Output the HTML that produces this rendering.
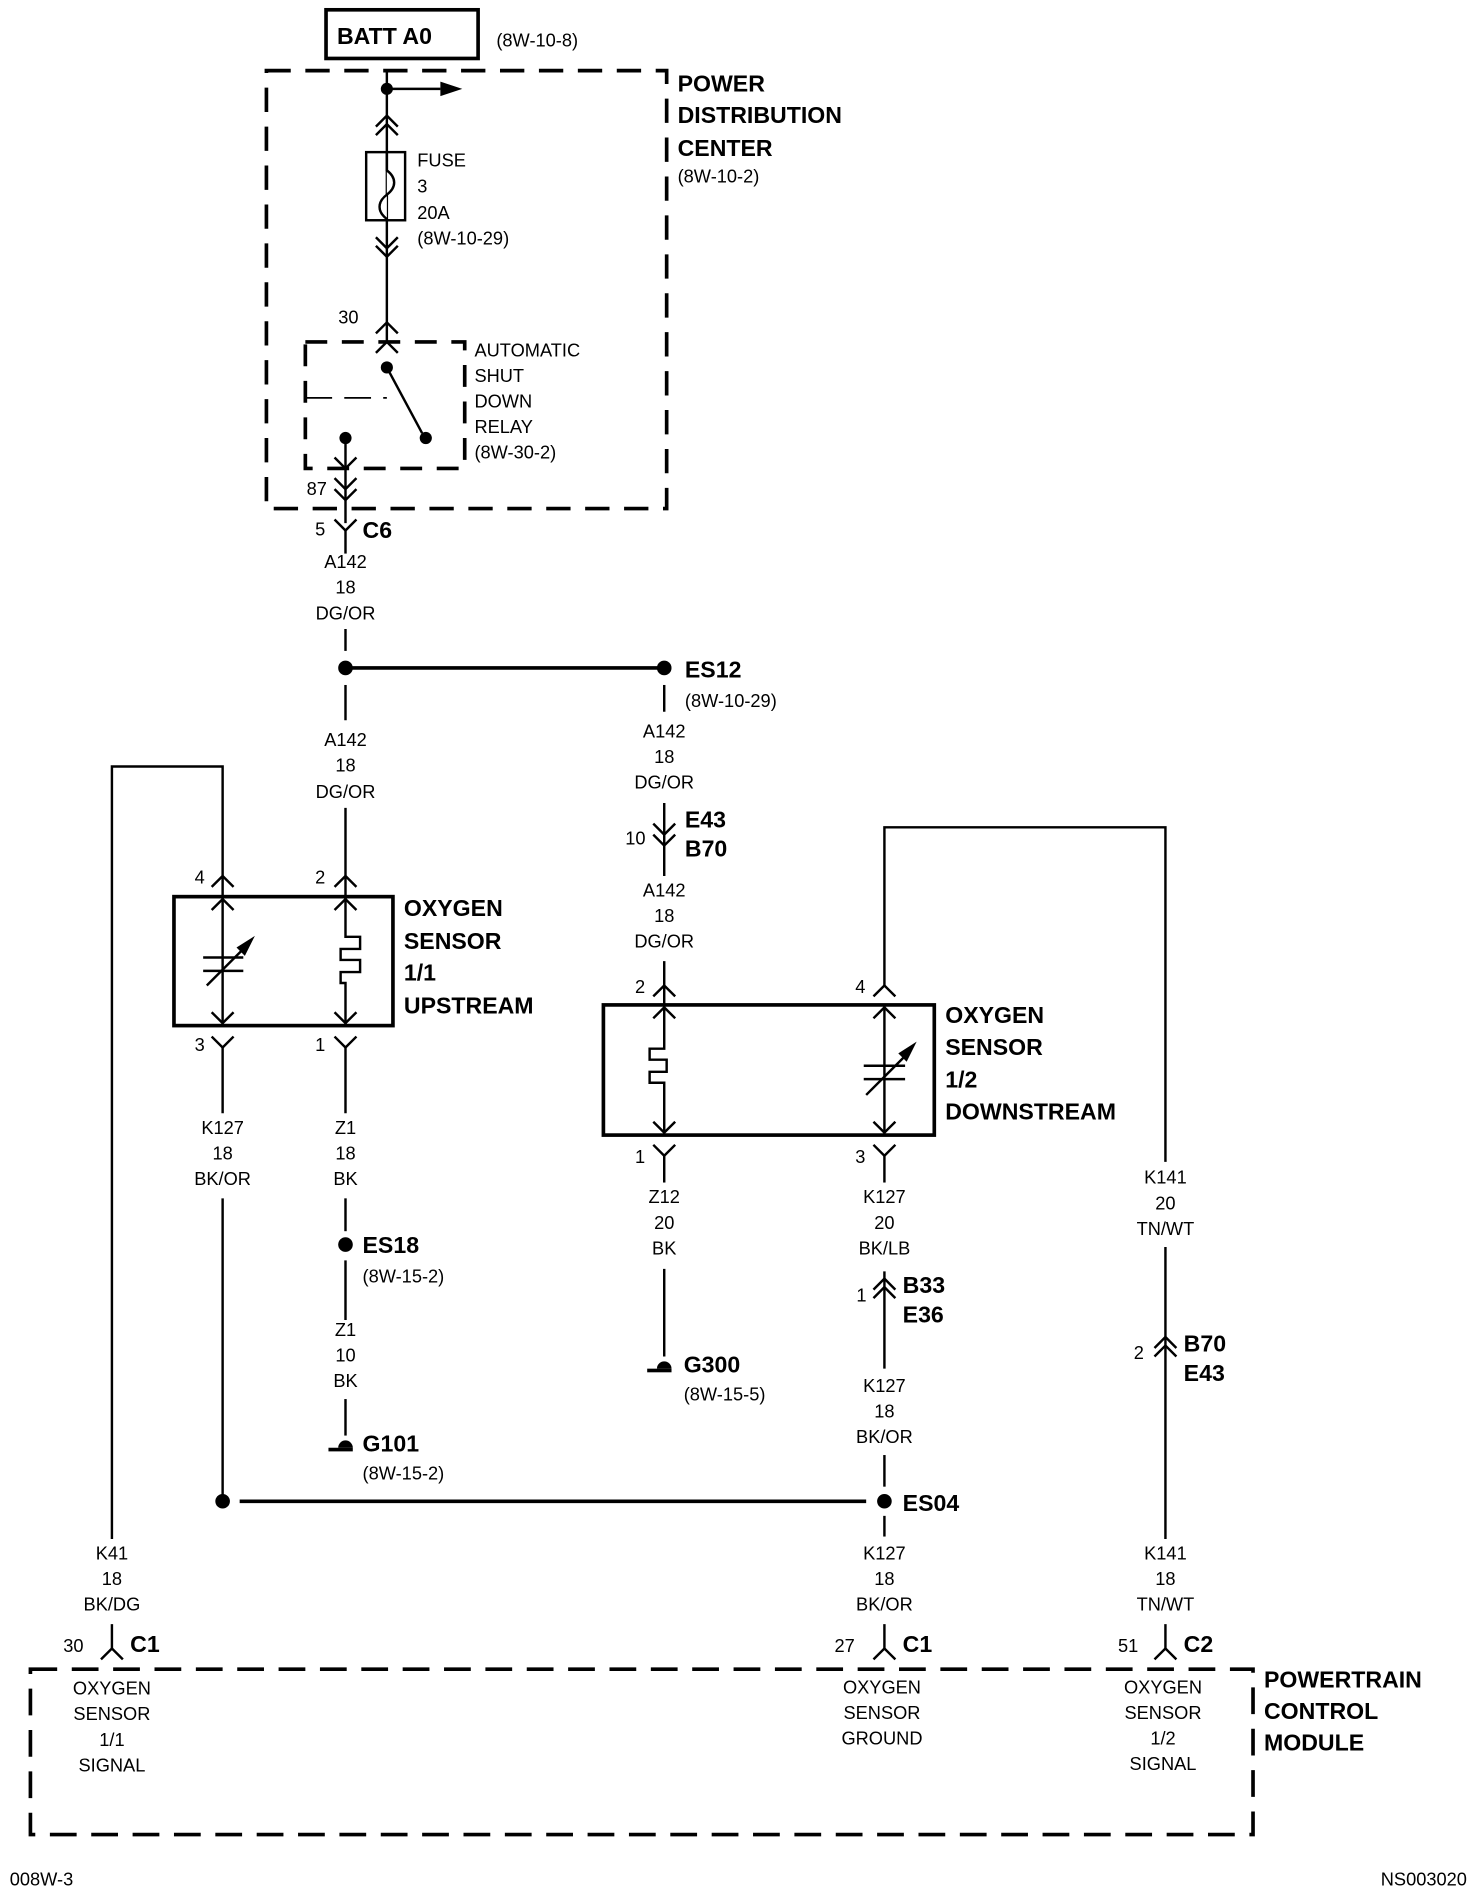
<!DOCTYPE html>
<html><head><meta charset="utf-8"><style>
html,body{margin:0;padding:0;background:#fff;}
svg{display:block}
text{font-family:"Liberation Sans",Arial,sans-serif;fill:#000}
.s{font-size:15px}
.b{font-size:19px;font-weight:bold}
.m{text-anchor:middle}
</style></head><body>
<svg width="1472" height="1904" viewBox="0 0 1210 1565" xmlns="http://www.w3.org/2000/svg">
<g fill="none" stroke="#000" stroke-width="2">
<rect x="268" y="8" width="125" height="40" stroke-width="3"/>
<rect x="219" y="58" width="329" height="360" stroke-width="3" stroke-dasharray="20,12"/>
<line x1="318" y1="58" x2="318" y2="280"/>
<line x1="318" y1="73" x2="362" y2="73"/>
<polyline points="309,104 318,95 327,104"/><polyline points="309,111 318,102 327,111"/>
<rect x="301" y="125" width="32" height="56"/>
<path d="M318,125 v15 c8,6 8,14 0,20 c-8,6 -8,14 0,20" fill="#fff"/>
<polyline points="309,195 318,204 327,195"/><polyline points="309,202 318,211 327,202"/>
<polyline points="309,274 318,265 327,274"/>
<polyline points="309,290 318,281 327,290"/>
<rect x="251" y="281" width="131" height="104" stroke-dasharray="18,12" stroke-width="3"/>
<line x1="251" y1="327" x2="318" y2="327" stroke-dasharray="22,10" stroke-width="1.5"/>
<line x1="318" y1="302" x2="347" y2="356"/>
<line x1="284" y1="360" x2="284" y2="430"/>
<polyline points="275,376 284,385 293,376"/>
<polyline points="275,393 284,402 293,393"/><polyline points="275,402 284,411 293,402"/>
<polyline points="275,427 284,436 293,427"/>
<line x1="284" y1="436" x2="284" y2="455"/>
<line x1="284" y1="517" x2="284" y2="535"/>
<line x1="284" y1="549" x2="546" y2="549" stroke-width="3"/>
<line x1="284" y1="563" x2="284" y2="592"/>
<line x1="284" y1="664" x2="284" y2="737"/>
<polyline points="275,729 284,720 293,729"/>
<polyline points="92,1265 92,630 183,630 183,737"/>
<polyline points="174,729 183,720 192,729"/>
<rect x="143" y="737" width="180" height="106" stroke-width="3"/>
<line x1="183" y1="737" x2="183" y2="843"/>
<polyline points="174,748 183,739 192,748"/><polyline points="174,832 183,841 192,832"/>
<line x1="167" y1="787" x2="200" y2="787"/><line x1="167" y1="798" x2="200" y2="798"/>
<line x1="170" y1="810" x2="200" y2="780"/>
<polygon points="207,772 196,779 201,784" fill="#000"/>
<path d="M284,737 v33 h12 v10 h-16 v9 h16 v10 h-16 v9 h4 v35"/>
<polyline points="275,748 284,739 293,748"/><polyline points="275,832 284,841 293,832"/>
<polyline points="174,852 183,861 192,852"/><polyline points="275,852 284,861 293,852"/>
<line x1="183" y1="861" x2="183" y2="915"/><line x1="284" y1="861" x2="284" y2="915"/>
<line x1="183" y1="985" x2="183" y2="1234"/>
<line x1="284" y1="985" x2="284" y2="1012"/>
<line x1="284" y1="1036" x2="284" y2="1085"/>
<line x1="284" y1="1150" x2="284" y2="1180"/>
<line x1="197" y1="1234" x2="712" y2="1234" stroke-width="3"/>
<line x1="546" y1="563" x2="546" y2="585"/>
<line x1="546" y1="660" x2="546" y2="720"/>
<polyline points="537,686 546,695 555,686"/><polyline points="537,677 546,686 555,677"/>
<line x1="546" y1="790" x2="546" y2="826"/>
<polyline points="537,819 546,810 555,819"/>
<rect x="496" y="826" width="272" height="107" stroke-width="3"/>
<path d="M546,826 v36 h-12 v9 h14 v10 h-14 v9 h12 v43"/>
<polyline points="537,837 546,828 555,837"/><polyline points="537,922 546,931 555,922"/>
<line x1="727" y1="826" x2="727" y2="933"/>
<polyline points="718,837 727,828 736,837"/><polyline points="718,922 727,931 736,922"/>
<line x1="710" y1="876" x2="744" y2="876"/><line x1="710" y1="887" x2="744" y2="887"/>
<line x1="712" y1="900" x2="744" y2="868"/>
<polygon points="751,859 740,866 745,871" fill="#000"/>
<polyline points="537,941 546,950 555,941"/><polyline points="718,941 727,950 736,941"/>
<line x1="546" y1="950" x2="546" y2="972"/>
<line x1="546" y1="1043" x2="546" y2="1115"/>
<line x1="727" y1="950" x2="727" y2="972"/>
<line x1="727" y1="1045" x2="727" y2="1125"/>
<polyline points="718,1060 727,1051 736,1060"/><polyline points="718,1067 727,1058 736,1067"/>
<line x1="727" y1="1196" x2="727" y2="1222"/>
<line x1="727" y1="1246" x2="727" y2="1263"/>
<line x1="727" y1="1335" x2="727" y2="1355"/>
<polyline points="718,1364 727,1355 736,1364"/>
<polyline points="727,810 727,680 958,680 958,955"/>
<polyline points="718,819 727,810 736,819"/>
<line x1="958" y1="1025" x2="958" y2="1265"/>
<polyline points="949,1108 958,1099 967,1108"/><polyline points="949,1115 958,1106 967,1115"/>
<line x1="958" y1="1335" x2="958" y2="1355"/>
<polyline points="949,1364 958,1355 967,1364"/>
<line x1="92" y1="1335" x2="92" y2="1355"/>
<polyline points="83,1364 92,1355 101,1364"/>
<rect x="25" y="1372" width="1005" height="136" stroke-width="3" stroke-dasharray="22,12"/>
</g>
<g fill="#000">
<polygon points="362,67 380,73 362,79"/>
<circle cx="318" cy="73" r="5"/><circle cx="318" cy="302" r="5"/><circle cx="350" cy="360" r="5"/><circle cx="284" cy="360" r="5"/>
<circle cx="284" cy="549" r="6"/><circle cx="546" cy="549" r="6"/>
<circle cx="284" cy="1023" r="6"/><circle cx="183" cy="1234" r="6"/><circle cx="727" cy="1234" r="6"/>
<path d="M278,1190 a6,6 0 0 1 12,0 z"/><rect x="270" y="1190" width="20" height="3"/>
<path d="M540,1125 a6,6 0 0 1 12,0 z"/><rect x="532" y="1125" width="20" height="3"/>
</g>
<text x="277" y="36" class="b">BATT A0</text>
<text x="408" y="38" class="s">(8W-10-8)</text>
<text x="557" y="75" class="b">POWER</text>
<text x="557" y="101" class="b">DISTRIBUTION</text>
<text x="557" y="128" class="b">CENTER</text>
<text x="557" y="150" class="s">(8W-10-2)</text>
<text x="343" y="137" class="s">FUSE</text>
<text x="343" y="158" class="s">3</text>
<text x="343" y="180" class="s">20A</text>
<text x="343" y="201" class="s">(8W-10-29)</text>
<text x="278" y="266" class="s">30</text>
<text x="390" y="293" class="s">AUTOMATIC</text>
<text x="390" y="314" class="s">SHUT</text>
<text x="390" y="335" class="s">DOWN</text>
<text x="390" y="356" class="s">RELAY</text>
<text x="390" y="377" class="s">(8W-30-2)</text>
<text x="252" y="407" class="s">87</text>
<text x="259" y="440" class="s">5</text>
<text x="298" y="442" class="b">C6</text>
<text x="284" y="467" class="s m">A142</text><text x="284" y="488" class="s m">18</text><text x="284" y="509" class="s m">DG/OR</text>
<text x="284" y="613" class="s m">A142</text><text x="284" y="634" class="s m">18</text><text x="284" y="656" class="s m">DG/OR</text>
<text x="546" y="606" class="s m">A142</text><text x="546" y="627" class="s m">18</text><text x="546" y="648" class="s m">DG/OR</text>
<text x="546" y="737" class="s m">A142</text><text x="546" y="758" class="s m">18</text><text x="546" y="779" class="s m">DG/OR</text>
<text x="183" y="932" class="s m">K127</text><text x="183" y="953" class="s m">18</text><text x="183" y="974" class="s m">BK/OR</text>
<text x="284" y="932" class="s m">Z1</text><text x="284" y="953" class="s m">18</text><text x="284" y="974" class="s m">BK</text>
<text x="284" y="1098" class="s m">Z1</text><text x="284" y="1119" class="s m">10</text><text x="284" y="1140" class="s m">BK</text>
<text x="546" y="989" class="s m">Z12</text><text x="546" y="1010" class="s m">20</text><text x="546" y="1031" class="s m">BK</text>
<text x="727" y="989" class="s m">K127</text><text x="727" y="1010" class="s m">20</text><text x="727" y="1031" class="s m">BK/LB</text>
<text x="727" y="1144" class="s m">K127</text><text x="727" y="1165" class="s m">18</text><text x="727" y="1186" class="s m">BK/OR</text>
<text x="727" y="1282" class="s m">K127</text><text x="727" y="1303" class="s m">18</text><text x="727" y="1324" class="s m">BK/OR</text>
<text x="958" y="973" class="s m">K141</text><text x="958" y="994" class="s m">20</text><text x="958" y="1015" class="s m">TN/WT</text>
<text x="958" y="1282" class="s m">K141</text><text x="958" y="1303" class="s m">18</text><text x="958" y="1324" class="s m">TN/WT</text>
<text x="92" y="1282" class="s m">K41</text><text x="92" y="1303" class="s m">18</text><text x="92" y="1324" class="s m">BK/DG</text>
<text x="92" y="1393" class="s m">OXYGEN</text><text x="92" y="1414" class="s m">SENSOR</text><text x="92" y="1435" class="s m">1/1</text><text x="92" y="1456" class="s m">SIGNAL</text>
<text x="725" y="1392" class="s m">OXYGEN</text><text x="725" y="1413" class="s m">SENSOR</text><text x="725" y="1434" class="s m">GROUND</text>
<text x="956" y="1392" class="s m">OXYGEN</text><text x="956" y="1413" class="s m">SENSOR</text><text x="956" y="1434" class="s m">1/2</text><text x="956" y="1455" class="s m">SIGNAL</text>
<text x="563" y="557" class="b">ES12</text>
<text x="563" y="581" class="s">(8W-10-29)</text>
<text x="514" y="694" class="s">10</text>
<text x="563" y="680" class="b">E43</text><text x="563" y="704" class="b">B70</text>
<text x="160" y="726" class="s">4</text><text x="259" y="726" class="s">2</text>
<text x="160" y="864" class="s">3</text><text x="259" y="864" class="s">1</text>
<text x="332" y="753" class="b">OXYGEN</text><text x="332" y="780" class="b">SENSOR</text><text x="332" y="806" class="b">1/1</text><text x="332" y="833" class="b">UPSTREAM</text>
<text x="522" y="816" class="s">2</text><text x="703" y="816" class="s">4</text>
<text x="522" y="956" class="s">1</text><text x="703" y="956" class="s">3</text>
<text x="777" y="841" class="b">OXYGEN</text><text x="777" y="867" class="b">SENSOR</text><text x="777" y="894" class="b">1/2</text><text x="777" y="920" class="b">DOWNSTREAM</text>
<text x="298" y="1030" class="b">ES18</text><text x="298" y="1054" class="s">(8W-15-2)</text>
<text x="298" y="1193" class="b">G101</text><text x="298" y="1216" class="s">(8W-15-2)</text>
<text x="562" y="1128" class="b">G300</text><text x="562" y="1151" class="s">(8W-15-5)</text>
<text x="704" y="1070" class="s">1</text>
<text x="742" y="1063" class="b">B33</text><text x="742" y="1087" class="b">E36</text>
<text x="742" y="1242" class="b">ES04</text>
<text x="932" y="1117" class="s">2</text>
<text x="973" y="1111" class="b">B70</text><text x="973" y="1135" class="b">E43</text>
<text x="52" y="1358" class="s">30</text><text x="107" y="1358" class="b">C1</text>
<text x="686" y="1358" class="s">27</text><text x="742" y="1358" class="b">C1</text>
<text x="919" y="1358" class="s">51</text><text x="973" y="1358" class="b">C2</text>
<text x="1039" y="1387" class="b">POWERTRAIN</text><text x="1039" y="1413" class="b">CONTROL</text><text x="1039" y="1439" class="b">MODULE</text>
<text x="8" y="1550" class="s">008W-3</text>
<text x="1135" y="1550" class="s">NS003020</text>
</svg>
</body></html>
